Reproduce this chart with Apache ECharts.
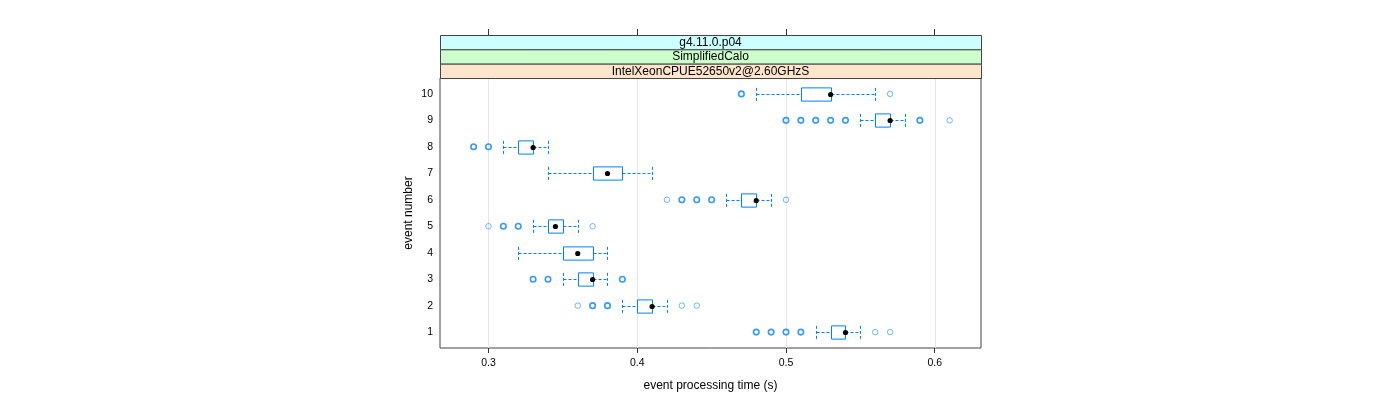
<!DOCTYPE html>
<html>
<head>
<meta charset="utf-8">
<script src="https://cdn.jsdelivr.net/npm/echarts@6/dist/echarts.min.js"></script>
<style>
html,body{margin:0;padding:0;background:#fff;}
#chart{width:1400px;height:400px;}
</style>
</head>
<body>
<div id="chart"></div>
<script>
// ---- data ----
const events      = [1, 2, 3, 4, 5, 6, 7, 8, 9, 10];
const whiskerLow  = [0.52, 0.39, 0.35, 0.32, 0.33, 0.46, 0.34, 0.31, 0.55, 0.48];
const quart1      = [0.53, 0.40, 0.36, 0.35, 0.34, 0.47, 0.37, 0.32, 0.56, 0.51];
const medians     = [0.54, 0.41, 0.37, 0.36, 0.345, 0.48, 0.38, 0.33, 0.57, 0.53];
const quart3      = [0.54, 0.41, 0.37, 0.37, 0.35, 0.48, 0.39, 0.33, 0.57, 0.53];
const whiskerHigh = [0.55, 0.42, 0.38, 0.38, 0.36, 0.49, 0.41, 0.34, 0.58, 0.56];

// outliers: event number, value, how many points overlap
const outlierEvent = [1,1,1,1,1,1, 2,2,2,2,2, 3,3,3, 5,5,5,5, 6,6,6,6,6, 8,8, 9,9,9,9,9,9,9, 10,10];
const outlierValue = [0.48,0.49,0.50,0.51,0.56,0.57, 0.36,0.37,0.38,0.43,0.44, 0.33,0.34,0.39, 0.30,0.31,0.32,0.37, 0.42,0.43,0.44,0.45,0.50, 0.29,0.30, 0.50,0.51,0.52,0.53,0.54,0.59,0.61, 0.47,0.57];
const outlierCount = [2,2,2,3,1,1, 1,2,2,1,1, 2,2,2, 1,2,2,1, 1,2,2,2,1, 2,2, 2,2,2,2,2,2,1, 2,1];

const xTicks = [0.3, 0.4, 0.5, 0.6];
const yTicks = [1, 2, 3, 4, 5, 6, 7, 8, 9, 10];
const stripLabels = ['g4.11.0.p04', 'SimplifiedCalo', 'IntelXeonCPUE52650v2@2.60GHzS'];
const stripColors = ['#ccffff', '#ccffcc', '#ffe5cc'];

// ---- chart ----
const FONT = '"Liberation Sans", Arial, Helvetica, sans-serif';
const BLUE = '#0080ff';
const gridL = 440, gridR = 981, gridT = 78, gridB = 348;
const stripTop = 35;
const stripH = (gridT - stripTop) / 3;

const boxData = events.map((e, i) => [e, whiskerLow[i], quart1[i], medians[i], quart3[i], whiskerHigh[i]]);
const outData = outlierEvent.map((e, i) => ({
  value: [outlierValue[i], e],
  itemStyle: outlierCount[i] > 1
    ? { color: 'rgba(0,0,0,0)', borderColor: BLUE, borderWidth: 1.6 }
    : { color: 'rgba(0,0,0,0)', borderColor: 'rgba(0,128,255,0.7)', borderWidth: 1 }
}));

const graphics = [];
stripLabels.forEach((t, i) => {
  graphics.push({
    type: 'rect', left: gridL, top: stripTop + i * stripH, z: 100,
    shape: { width: gridR - gridL, height: stripH },
    style: { fill: stripColors[i], stroke: '#444', lineWidth: 1 }
  });
  graphics.push({
    type: 'text', z: 101,
    x: (gridL + gridR) / 2, y: stripTop + i * stripH + stripH / 2 + 0.5,
    style: { text: t, fill: '#000', font: '12px ' + FONT, align: 'center', verticalAlign: 'middle' }
  });
});

const chart = echarts.init(document.getElementById('chart'), null, { renderer: 'canvas' });
chart.setOption({
  animation: false,
  backgroundColor: '#fff',
  textStyle: { fontFamily: FONT },
  grid: {
    left: gridL, right: 1400 - gridR, top: gridT, bottom: 400 - gridB,
    show: true, borderColor: '#444', borderWidth: 1, backgroundColor: 'rgba(0,0,0,0)'
  },
  graphic: graphics,
  xAxis: [{
    type: 'value', min: 0.2674, max: 0.6311, position: 'bottom',
    axisLine: { show: false },
    axisTick: { show: true, length: 5, inside: false, customValues: xTicks, lineStyle: { color: '#333' } },
    axisLabel: { show: true, customValues: xTicks, color: '#000', fontSize: 10.5, margin: 10,
                 formatter: v => String(v) },
    splitLine: { show: false },
    name: 'event processing time (s)', nameLocation: 'middle', nameGap: 32,
    nameTextStyle: { color: '#000', fontSize: 12, fontFamily: FONT }
  }, {
    type: 'value', min: 0.2674, max: 0.6311, position: 'top', offset: gridT - stripTop,
    axisLine: { show: false },
    axisTick: { show: true, length: 6, inside: false, customValues: xTicks, lineStyle: { color: '#333' } },
    axisLabel: { show: false },
    splitLine: { show: false }
  }],
  yAxis: {
    type: 'value', min: 0.4, max: 10.6,
    axisLine: { show: false },
    axisTick: { show: false },
    axisLabel: { show: true, customValues: yTicks, color: '#000', fontSize: 10.5, margin: 7 },
    splitLine: { show: false },
    name: 'event number', nameLocation: 'middle', nameGap: 25,
    nameTextStyle: { color: '#000', fontSize: 12, fontFamily: FONT }
  },
  series: [{
    type: 'custom', z: 1, silent: true,
    data: xTicks.map(v => [v]),
    encode: { x: 0 },
    renderItem: (params, api) => {
      const cs = params.coordSys;
      const x = Math.round(api.coord([api.value(0), 1])[0]) + 0.5;
      return { type: 'line', shape: { x1: x, y1: cs.y, x2: x, y2: cs.y + cs.height },
               style: { stroke: '#e6e6e6', lineWidth: 1 } };
    }
  }, {
    type: 'custom', z: 3, silent: true,
    data: boxData,
    encode: { y: 0, x: [1, 2, 3, 4, 5] },
    renderItem: (params, api) => {
      const ev = api.value(0);
      const y = Math.round(api.coord([0.4, ev])[1]) + 0.5;
      const px = k => Math.round(api.coord([api.value(k), ev])[0]) + 0.5;
      const xl = px(1), xq1 = px(2), xm = api.coord([api.value(3), ev])[0], xq3 = px(4), xh = px(5);
      const h = api.size([0, 1])[1] * 0.5;
      const dash = { stroke: BLUE, lineWidth: 1, lineDash: [3, 2] };
      return { type: 'group', children: [
        { type: 'line', shape: { x1: xl, y1: y, x2: xq1, y2: y }, style: dash },
        { type: 'line', shape: { x1: xq3, y1: y, x2: xh, y2: y }, style: dash },
        { type: 'line', shape: { x1: xl, y1: y - h / 2, x2: xl, y2: y + h / 2 }, style: dash },
        { type: 'line', shape: { x1: xh, y1: y - h / 2, x2: xh, y2: y + h / 2 }, style: dash },
        { type: 'rect', shape: { x: xq1, y: y - h / 2, width: Math.max(xq3 - xq1, 0), height: h },
          style: { fill: '#fff', stroke: BLUE, lineWidth: 1 } },
        { type: 'circle', shape: { cx: xm, cy: y, r: 2.6 }, style: { fill: '#000' } }
      ] };
    }
  }, {
    type: 'scatter', z: 4, silent: true,
    symbol: 'circle', symbolSize: 5.5,
    data: outData
  }]
});
</script>
</body>
</html>
